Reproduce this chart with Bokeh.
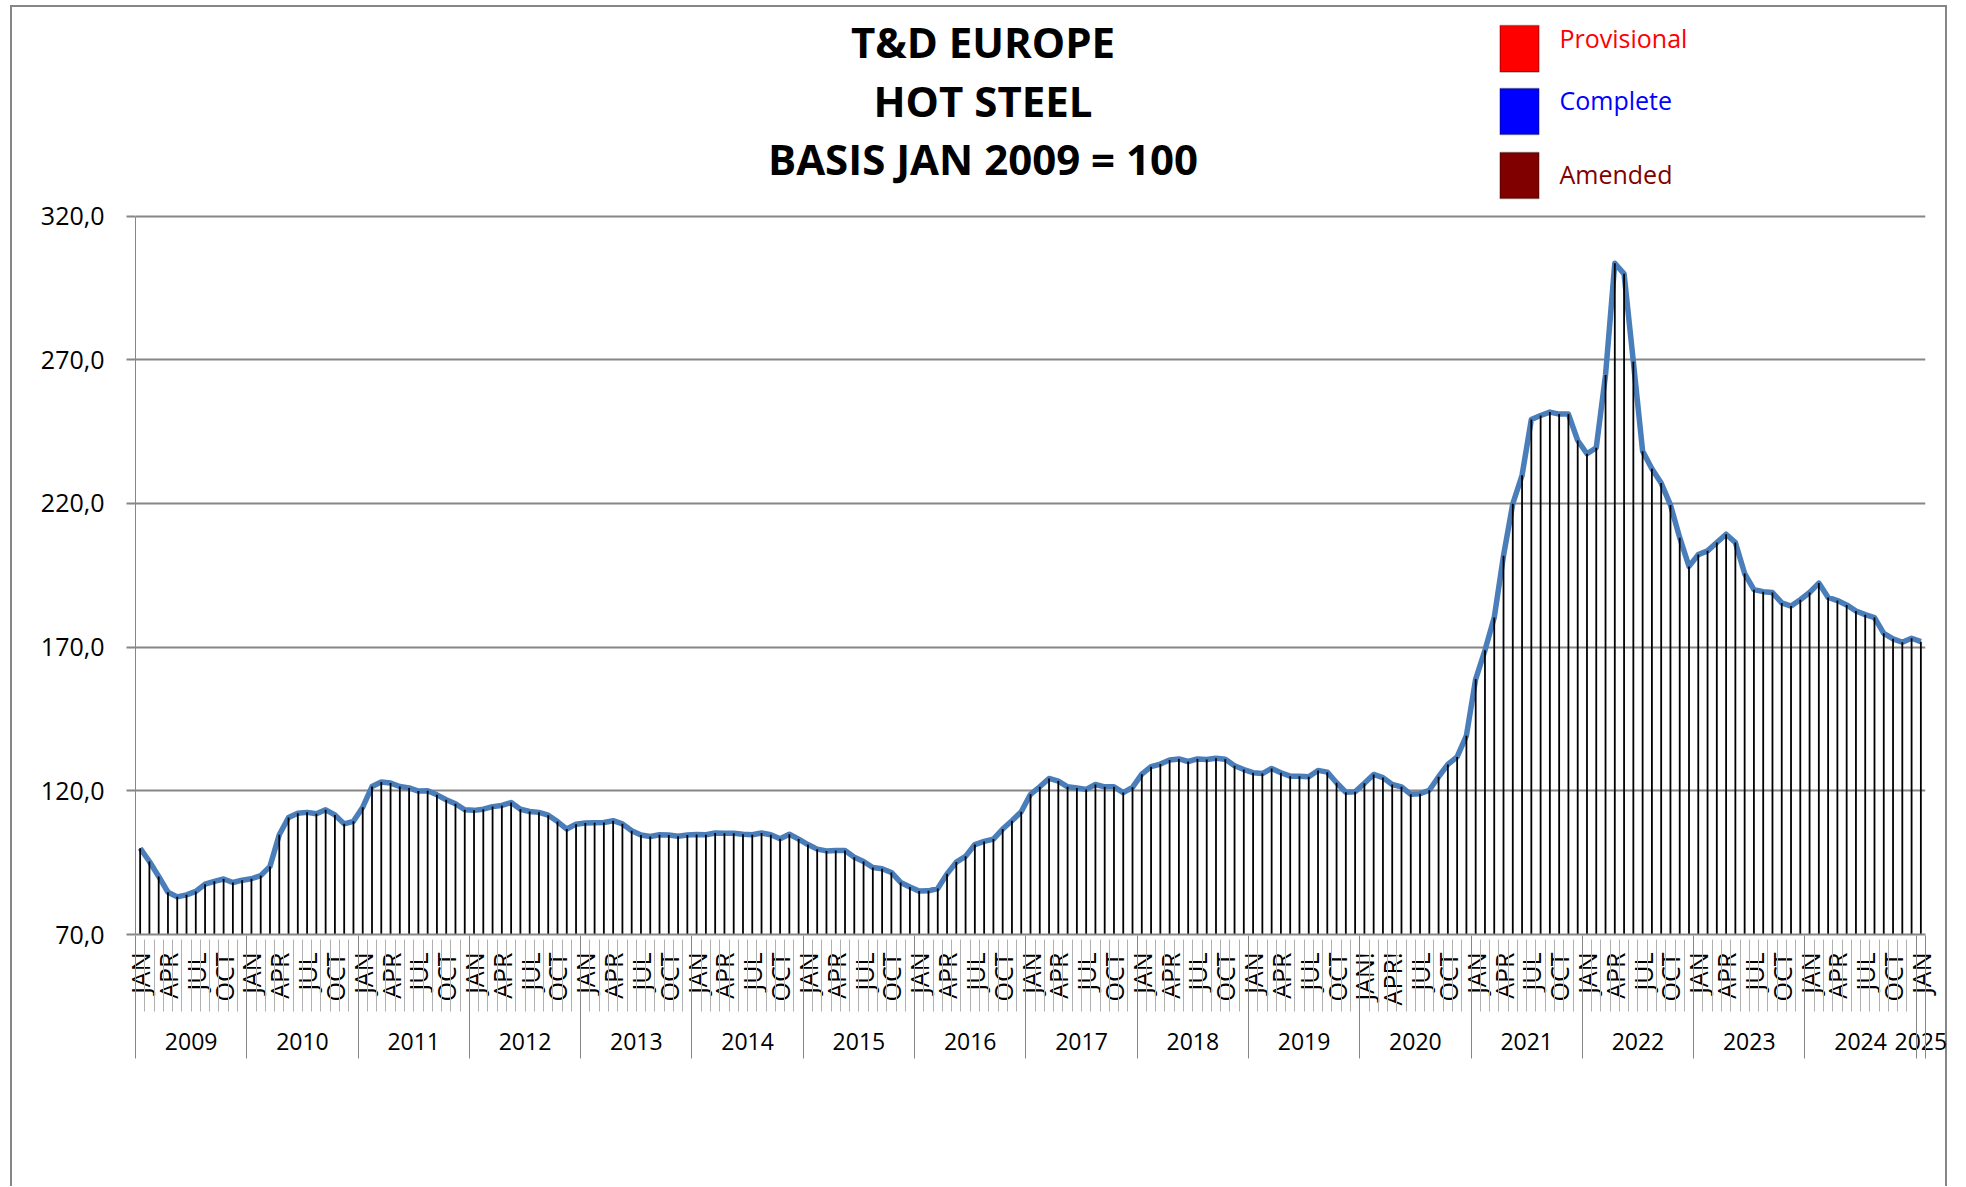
import math
from bokeh.plotting import figure
from bokeh.models import Range1d, FixedTicker, LinearAxis, Label, BoxAnnotation, ColumnDataSource
from bokeh.embed import file_html
from bokeh.resources import INLINE

# ---------------- data ----------------
years = ["2009", "2010", "2011", "2012", "2013", "2014", "2015", "2016", "2017",
         "2018", "2019", "2020", "2021", "2022", "2023", "2024", "2025"]

v2009 = [100.0, 95.4, 90.2, 84.7, 83.1, 83.8, 85.0, 87.5, 88.5, 89.3, 88.1, 88.9]
v2010 = [89.4, 90.5, 93.7, 104.7, 110.7, 112.2, 112.5, 112.0, 113.4, 111.6, 108.5, 109.4]
v2011 = [114.3, 121.5, 123.1, 122.7, 121.5, 121.0, 119.9, 120.0, 118.6, 116.9, 115.5, 113.4]
v2012 = [113.2, 113.6, 114.5, 114.9, 115.9, 113.6, 112.8, 112.5, 111.5, 109.3, 106.7, 108.4]
v2013 = [108.8, 108.9, 109.0, 109.6, 108.5, 106.1, 104.6, 104.1, 104.7, 104.6, 104.2, 104.6]
v2014 = [104.8, 104.7, 105.3, 105.2, 105.2, 104.9, 104.7, 105.3, 104.7, 103.3, 104.9, 103.2]
v2015 = [101.3, 99.7, 99.1, 99.2, 99.2, 96.9, 95.4, 93.3, 92.9, 91.6, 88.1, 86.5]
v2016 = [85.1, 85.2, 86.0, 91.1, 95.2, 97.2, 101.3, 102.4, 103.2, 106.7, 109.6, 112.7]
v2017 = [118.8, 121.4, 124.3, 123.4, 121.4, 121.0, 120.5, 122.2, 121.4, 121.4, 119.4, 121.2]
v2018 = [125.8, 128.4, 129.3, 130.7, 131.1, 130.2, 131.1, 130.9, 131.3, 131.0, 128.7, 127.4]
v2019 = [126.3, 126.0, 127.8, 126.3, 125.1, 125.1, 124.9, 127.1, 126.5, 122.8, 119.5, 119.7]
v2020 = [122.6, 125.7, 124.6, 122.2, 121.4, 118.8, 119.0, 120.2, 124.9, 129.2, 131.8, 139.2]
v2021 = [158.9, 168.9, 180.3, 201.8, 219.9, 229.8, 249.2, 250.6, 251.8, 251.1, 251.1, 241.9]
v2022 = [237.3, 239.4, 264.7, 303.6, 299.9, 269.3, 238.2, 232.1, 227.1, 219.5, 208.1, 198.1]
v2023 = [202.2, 203.5, 206.4, 209.3, 206.4, 195.6, 190.0, 189.3, 189.0, 185.4, 184.3, 186.5]
v2024 = [189.0, 192.3, 187.3, 186.2, 184.7, 182.6, 181.3, 180.3, 174.8, 172.9, 171.7, 173.1]
v2025 = [171.9]

yearly_values = [v2009, v2010, v2011, v2012, v2013, v2014, v2015, v2016, v2017,
                 v2018, v2019, v2020, v2021, v2022, v2023, v2024, v2025]

# quarter labels shown on the month axis (JAN, APR, JUL, OCT of each year)
quarter_labels = [
    ["JAN", "APR", "JUL", "OCT"],  # 2009
    ["JAN", "APR", "JUL", "OCT"],  # 2010
    ["JAN", "APR", "JUL", "OCT"],  # 2011
    ["JAN", "APR", "JUL", "OCT"],  # 2012
    ["JAN", "APR", "JUL", "OCT"],  # 2013
    ["JAN", "APR", "JUL", "OCT"],  # 2014
    ["JAN", "APR", "JUL", "OCT"],  # 2015
    ["JAN", "APR", "JUL", "OCT"],  # 2016
    ["JAN", "APR", "JUL", "OCT"],  # 2017
    ["JAN", "APR", "JUL", "OCT"],  # 2018
    ["JAN", "APR", "JUL", "OCT"],  # 2019
    ["JAN!", "APR!", "JUL", "OCT"],  # 2020
    ["JAN", "APR", "JUL", "OCT"],  # 2021
    ["JAN", "APR", "JUL", "OCT"],  # 2022
    ["JAN", "APR", "JUL", "OCT"],  # 2023
    ["JAN", "APR", "JUL", "OCT"],  # 2024
    ["JAN"],                       # 2025
]

y_ticks = [70, 120, 170, 220, 270, 320]
y_tick_labels = ["70,0", "120,0", "170,0", "220,0", "270,0", "320,0"]

title_lines = ["T&D EUROPE", "HOT STEEL", "BASIS JAN 2009 = 100"]
legend_names = ["Provisional", "Complete", "Amended"]
legend_colors = ["#FF0000", "#0000FF", "#800000"]

# ---------------- derived ----------------
values = [v for yr in yearly_values for v in yr]
n = len(values)
idx = list(range(n))

quarter_pos, quarter_txt = [], []
year_centers, year_bounds = [], []
start = 0
for yr_vals, qlabs in zip(yearly_values, quarter_labels):
    cnt = len(yr_vals)
    for k, lab in enumerate(qlabs):
        quarter_pos.append(start + 3 * k)
        quarter_txt.append(lab)
    year_centers.append(start + (cnt - 1) / 2)
    year_bounds.append(start - 0.5)
    start += cnt
year_bounds.append(n - 0.5)
month_bounds = [i - 0.5 for i in range(n + 1)]

Y0, YMAX = y_ticks[0], y_ticks[-1]
X0, X1 = -0.5, n - 0.5

# ---------------- layout geometry (page pixels) ----------------
W, H = 1948, 1186
PLOT_L, PLOT_R = 135, 1925          # horizontal extent of plotting area
PIX_TOP_TICK, PIX_BASE = 215.6, 934  # pixel rows of the 320 and 70 gridlines
FL, FR = PLOT_L, W - PLOT_R
FB = H - PIX_BASE
FH = PIX_BASE                        # frame runs from the top of the canvas
PX_PER_UNIT = (PIX_BASE - PIX_TOP_TICK) / (YMAX - Y0)
Y_TOP = Y0 + FH / PX_PER_UNIT


def fx(px):
    return X0 + (px - PLOT_L) * (X1 - X0) / (PLOT_R - PLOT_L)


def fy(py):
    return Y_TOP - py / PX_PER_UNIT


GRAY = "#868686"
FONT = "Open Sans"

p = figure(width=W, height=H, output_backend="svg", toolbar_location=None, title=None,
           x_range=Range1d(X0, X1), y_range=Range1d(Y0, Y_TOP),
           min_border_left=FL, min_border_right=FR, min_border_top=0, min_border_bottom=FB,
           outline_line_color=None, background_fill_color=None, border_fill_color=None)

# outer chart border (left, top, right edges)
p.styles = {"box-shadow": ("inset 10px 0 0 0 #ffffff, inset 0 5px 0 0 #ffffff, inset -1px 0 0 0 #ffffff, "
                           "inset 12px 0 0 0 " + GRAY + ", inset 0 7px 0 0 " + GRAY + ", inset -3px 0 0 0 " + GRAY)}

# y axis
yt = FixedTicker(ticks=y_ticks)
p.yaxis.ticker = yt
p.yaxis.bounds = (Y0, YMAX)
p.ygrid.ticker = yt
p.yaxis.major_label_overrides = dict(zip(y_ticks, y_tick_labels))
p.yaxis.axis_line_color = GRAY
p.yaxis.axis_line_width = 1
p.yaxis.major_tick_out = 9
p.yaxis.major_tick_in = 0
p.yaxis.major_tick_line_color = GRAY
p.yaxis.major_tick_line_width = 2
p.yaxis.minor_tick_line_color = None
p.yaxis.major_label_standoff = 22
p.yaxis.major_label_text_font = FONT
p.yaxis.major_label_text_font_size = "25px"
p.yaxis.major_label_text_color = "black"
p.ygrid.grid_line_color = GRAY
p.ygrid.grid_line_width = 2
p.xgrid.visible = False

# month label axis
mx = p.xaxis[0]
mx.ticker = FixedTicker(ticks=quarter_pos)
mx.major_label_overrides = dict(zip(quarter_pos, quarter_txt))
mx.major_label_orientation = math.pi / 2
mx.major_label_text_font = FONT
mx.major_label_text_font_size = "25px"
mx.major_label_text_color = "black"
mx.major_label_standoff = 18
mx.major_tick_out = 0
mx.major_tick_in = 0
mx.minor_tick_out = 0
mx.minor_tick_in = 0
mx.minor_tick_line_color = None
mx.axis_line_color = GRAY
mx.axis_line_width = 2

# year label axis, with month separators drawn up to the plot
ya = LinearAxis(ticker=FixedTicker(ticks=year_centers, minor_ticks=month_bounds))
ya.major_label_overrides = dict(zip(year_centers, years))
ya.major_label_text_font = FONT
ya.major_label_text_font_size = "23px"
ya.major_label_text_color = "black"
ya.major_label_standoff = 21
ya.major_tick_out = 0
ya.major_tick_in = 0
ya.axis_line_color = None
ya.minor_tick_in = 69
ya.minor_tick_out = 3
ya.minor_tick_line_color = "#b0b0b0"
ya.minor_tick_line_width = 1
p.add_layout(ya, "below")

# year separators
ys = LinearAxis(ticker=FixedTicker(ticks=[], minor_ticks=year_bounds))
ys.major_label_text_font_size = "0px"
ys.major_tick_out = 0
ys.major_tick_in = 0
ys.major_label_standoff = 0
ys.axis_line_color = None
ys.minor_tick_in = 117
ys.minor_tick_out = 6
ys.minor_tick_line_color = GRAY
ys.minor_tick_line_width = 1
p.add_layout(ys, "below")

# data
src = ColumnDataSource(dict(x=idx, y=values, base=[Y0] * n))
p.line("x", "y", source=src, line_color="#4A7EBB", line_width=5.5, line_join="round")
p.segment(x0="x", y0="base", x1="x", y1="y", source=src, line_color="black", line_width=1.8)

# title
for txt, cy in zip(title_lines, [40.6, 99.5, 158.4]):
    p.add_layout(Label(x=fx(982.5), y=fy(cy), text=txt, text_align="center", text_baseline="middle",
                       text_font=FONT, text_font_style="bold", text_font_size="42px", text_color="black"))

# legend
box_tops = [25, 88, 152]
box_bottoms = [71.5, 134, 198]
text_cy = [37.5, 99.3, 173.3]
for name, col, bt, bb, ty in zip(legend_names, legend_colors, box_tops, box_bottoms, text_cy):
    p.add_layout(BoxAnnotation(left=fx(1499.5), right=fx(1538.5), top=fy(bt), bottom=fy(bb),
                               fill_color=col, fill_alpha=1, line_color="black", line_width=1.5))
    p.add_layout(Label(x=fx(1559), y=fy(ty), text=name, text_align="left", text_baseline="middle",
                       text_font=FONT, text_font_size="25px", text_color=col))

open("out.html", "w").write(file_html(p, INLINE))
